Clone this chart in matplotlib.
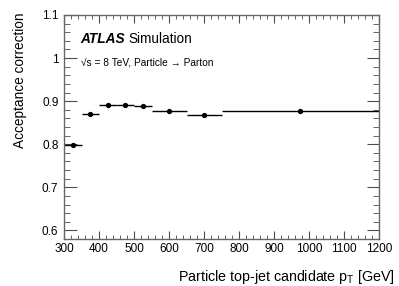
import numpy as np
import matplotlib
matplotlib.use('Agg')
import matplotlib.pyplot as plt
from matplotlib.ticker import MultipleLocator

plt.rcParams['font.family'] = ['Liberation Sans', 'DejaVu Sans']
plt.rcParams['mathtext.fontset'] = 'custom'
plt.rcParams['mathtext.rm'] = 'Liberation Sans'
plt.rcParams['mathtext.it'] = 'Liberation Sans:italic'

# bin edges (GeV) and acceptance correction per bin
bin_edges = [300, 350, 400, 450, 500, 550, 650, 750, 1200]
acceptance = [0.799, 0.871, 0.891, 0.892, 0.888, 0.877, 0.868, 0.877]
acc_err = [0.002, 0.002, 0.002, 0.002, 0.002, 0.002, 0.002, 0.003]

edges = np.array(bin_edges, dtype=float)
centers = 0.5 * (edges[1:] + edges[:-1])
half_w = 0.5 * (edges[1:] - edges[:-1])

fig = plt.figure(figsize=(3.99, 2.86), dpi=100)
ax = fig.add_axes([0.1604, 0.1643, 0.7895, 0.7833])

ax.errorbar(centers, acceptance, xerr=half_w, yerr=acc_err, fmt='o', color='black',
            markersize=2.8, elinewidth=1.0, capsize=0)

ax.set_xlim(300, 1200)
ax.set_ylim(0.58, 1.1)

ax.xaxis.set_major_locator(MultipleLocator(100))
ax.xaxis.set_minor_locator(MultipleLocator(20))
ax.yaxis.set_major_locator(MultipleLocator(0.1))
ax.yaxis.set_minor_locator(MultipleLocator(0.02))
ax.set_yticks([0.6, 0.7, 0.8, 0.9, 1.0, 1.1])
ax.set_yticklabels(['0.6', '0.7', '0.8', '0.9', '1', '1.1'])

ax.tick_params(which='both', direction='in', top=True, right=True, labelsize=8.5, color='0.3')
ax.tick_params(axis='x', which='major', length=6, pad=3)
ax.tick_params(axis='x', which='minor', length=3)
ax.tick_params(axis='y', which='major', length=9, pad=4)
ax.tick_params(axis='y', which='minor', length=4.5)
for sp in ax.spines.values():
    sp.set_color('0.4')
    sp.set_linewidth(1.0)

ax.set_xlabel('Particle top-jet candidate p$_{\\mathregular{T}}$ [GeV]', fontsize=10.3,
              ha='right', x=1.05, labelpad=9)
ax.set_ylabel('Acceptance correction', fontsize=9.8, ha='right', y=1.01, labelpad=11)

ax.text(0.053, 0.875, 'ATLAS', transform=ax.transAxes, fontsize=9.8,
        fontweight='bold', fontstyle='italic')
ax.text(0.203, 0.875, 'Simulation', transform=ax.transAxes, fontsize=9.8)
ax.text(0.053, 0.775, '\u221as = 8 TeV, Particle \u2192 Parton', transform=ax.transAxes,
        fontsize=7.3)

fig.savefig('out.png', dpi=100)
